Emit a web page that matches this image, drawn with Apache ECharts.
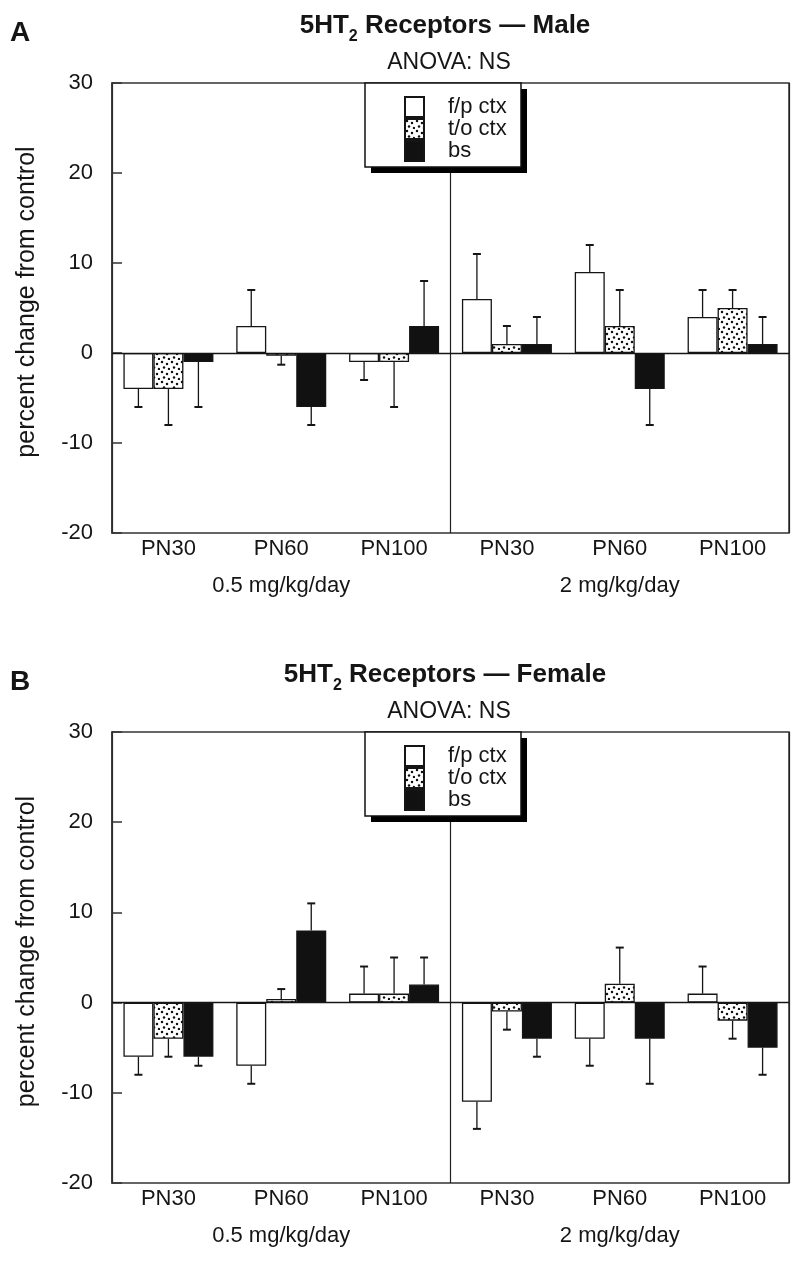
<!DOCTYPE html>
<html>
<head>
<meta charset="utf-8">
<script src="https://cdn.jsdelivr.net/npm/echarts@6/dist/echarts.min.js"></script>
<style>
html,body{margin:0;padding:0;background:#fff;}
#chart{width:800px;height:1262px;}
</style>
</head>
<body>
<div id="chart"></div>
<script>
// ---------------- data ----------------
const doses = ['0.5 mg/kg/day', '2 mg/kg/day'];
const timepoints = ['PN30', 'PN60', 'PN100'];
const regions = ['f/p ctx', 't/o ctx', 'bs'];
const yTicks = { min: -20, max: 30, interval: 10 };

// Panel A: male (percent change from control), one-sided SEM
const maleFp    = [-4, 3, -1, 6, 9, 4];
const maleFpErr = [2, 4, 2, 5, 3, 3];
const maleTo    = [-4, -0.3, -1, 1, 3, 5];
const maleToErr = [4, 1, 5, 2, 4, 2];
const maleBs    = [-1, -6, 3, 1, -4, 1];
const maleBsErr = [5, 2, 5, 3, 4, 3];

// Panel B: female
const femFp    = [-6, -7, 1, -11, -4, 1];
const femFpErr = [2, 2, 3, 3, 3, 3];
const femTo    = [-4, 0.4, 1, -1, 2.1, -2];
const femToErr = [2, 1.1, 4, 2, 4, 2];
const femBs    = [-6, 8, 2, -4, -4, -5];
const femBsErr = [1, 3, 3, 2, 5, 3];

// ---------------- styling ----------------
const FONT = 'Liberation Sans, Arial, Helvetica, sans-serif';
const INK = '#151515';
const BAR_W = 30;

function dotPattern() {
  const c = document.createElement('canvas');
  c.width = 10; c.height = 10;
  const g = c.getContext('2d');
  g.fillStyle = '#fff'; g.fillRect(0, 0, 10, 10);
  g.fillStyle = '#111';
  [[2, 2], [7, 4], [4, 7.5], [9, 9]].forEach(p => {
    g.beginPath(); g.arc(p[0], p[1], 1.25, 0, Math.PI * 2); g.fill();
  });
  return { image: c, repeat: 'repeat' };
}
const fills = ['#ffffff', dotPattern(), '#111111'];

const categories = doses.flatMap(d => timepoints.map(t => d + '|' + t));

const panels = [
  { name: 'A', sex: 'Male', top: 83, height: 450, vals: [maleFp, maleTo, maleBs], errs: [maleFpErr, maleToErr, maleBsErr] },
  { name: 'B', sex: 'Female', top: 732, height: 451, vals: [femFp, femTo, femBs], errs: [femFpErr, femToErr, femBsErr] }
];

const grid = [], xAxis = [], yAxis = [], series = [], legend = [], graphic = [];

panels.forEach((p, gi) => {
  grid.push({ left: 112, right: 11, top: p.top, height: p.height, show: true,
    borderColor: '#333', borderWidth: 1.5, backgroundColor: 'transparent' });
  xAxis.push({
    type: 'category', gridIndex: gi, data: categories, position: 'bottom',
    axisLine: { show: false }, axisTick: { show: false }, splitLine: { show: false },
    axisLabel: { color: INK, fontSize: 22, fontFamily: FONT, margin: 5,
      formatter: v => v.split('|')[1] }
  });
  xAxis.push({
    type: 'category', gridIndex: gi, data: doses, position: 'bottom', offset: 34,
    axisLine: { show: false }, axisTick: { show: false },
    splitLine: { show: true, lineStyle: { color: '#222', width: 1.2 } },
    axisLabel: { color: INK, fontSize: 22, fontFamily: FONT, margin: 8 }
  });
  yAxis.push({
    type: 'value', gridIndex: gi, min: yTicks.min, max: yTicks.max, interval: yTicks.interval,
    axisLine: { show: true, lineStyle: { color: '#333', width: 1.5 } },
    axisTick: { show: true, inside: true, length: 10, lineStyle: { color: '#333', width: 1.5 } },
    splitLine: { show: false },
    axisLabel: { color: INK, fontSize: 22, fontFamily: FONT, margin: 19 },
    name: 'percent change from control', nameLocation: 'middle', nameGap: 72, nameRotate: 90,
    nameTextStyle: { color: INK, fontSize: 25, fontFamily: FONT, padding: [0, 0, 0, 12] }
  });
  const xi = gi * 2;
  regions.forEach((r, si) => {
    const s = {
      type: 'bar', name: r, xAxisIndex: xi, yAxisIndex: gi,
      data: p.vals[si], barWidth: BAR_W, barGap: '0%',
      itemStyle: { color: fills[si], borderColor: INK, borderWidth: 1.3 },
      emphasis: { disabled: true }, animation: false
    };
    if (si === 0) {
      s.markLine = { silent: true, symbol: 'none', animation: false,
        label: { show: false }, lineStyle: { color: INK, type: 'solid', width: 1.4 },
        data: [{ yAxis: 0 }] };
    }
    series.push(s);
  });
  regions.forEach((r, si) => {
    series.push({
      type: 'custom', name: r + ' SEM ' + p.name, xAxisIndex: xi, yAxisIndex: gi,
      data: p.vals[si].map((v, i) => [i, v, p.errs[si][i]]),
      animation: false, silent: true, z: 5,
      renderItem: (params, api) => {
        const i = api.value(0), v = api.value(1), e = api.value(2);
        const dir = v >= 0 ? 1 : -1;
        const a = api.coord([i, v]);
        const b = api.coord([i, v + dir * e]);
        const x = a[0] + (si - 1) * BAR_W;
        const st = { stroke: INK, lineWidth: 1.3 };
        return { type: 'group', children: [
          { type: 'line', shape: { x1: x, y1: a[1], x2: x, y2: b[1] }, style: st },
          { type: 'line', shape: { x1: x - 4, y1: b[1], x2: x + 4, y2: b[1] }, style: Object.assign({}, st, { lineWidth: 2 }) }
        ] };
      }
    });
  });
  // legend box (frame with drop shadow) and legend
  graphic.push({ type: 'rect', z: 3, silent: true,
    shape: { x: 371, y: p.top + 6, width: 156, height: 84 }, style: { fill: '#000' } });
  graphic.push({ type: 'rect', z: 3, silent: true,
    shape: { x: 365, y: p.top, width: 156, height: 84 }, style: { fill: '#fff', stroke: '#111', lineWidth: 1.5 } });
  legend.push({
    data: regions, orient: 'vertical', left: 365, top: p.top, z: 4,
    icon: 'rect', itemWidth: 19, itemHeight: 20, itemGap: 0,
    padding: [13, 10, 13, 39],
    backgroundColor: 'transparent', borderWidth: 0,
    selectedMode: false,
    textStyle: { color: INK, fontSize: 22, fontFamily: FONT, lineHeight: 20, padding: [0, 0, 0, 19] }
  });
  graphic.push({
    type: 'text', x: 10, y: p.top - 50,
    style: { text: p.name, font: 'bold 28px ' + FONT, fill: INK, verticalAlign: 'middle' }
  });
  graphic.push({
    type: 'text', x: 445, y: p.top - 54,
    style: {
      text: '{b|5HT}{s|2}{b| Receptors — ' + p.sex + '}',
      align: 'center', verticalAlign: 'middle',
      rich: {
        b: { fontSize: 26, fontWeight: 'bold', fontFamily: FONT, fill: INK, verticalAlign: 'bottom', padding: [0, 0, 6, 0] },
        s: { fontSize: 16, fontWeight: 'bold', fontFamily: FONT, fill: INK, verticalAlign: 'bottom' }
      }
    }
  });
  graphic.push({
    type: 'text', x: 449, y: p.top - 20,
    style: { text: 'ANOVA: NS', align: 'center', verticalAlign: 'middle', font: '23px ' + FONT, fill: INK }
  });
});

const chart = echarts.init(document.getElementById('chart'), null, { renderer: 'canvas' });
chart.setOption({
  backgroundColor: '#fff',
  animation: false,
  grid, xAxis, yAxis, series, legend, graphic
});
</script>
</body>
</html>
